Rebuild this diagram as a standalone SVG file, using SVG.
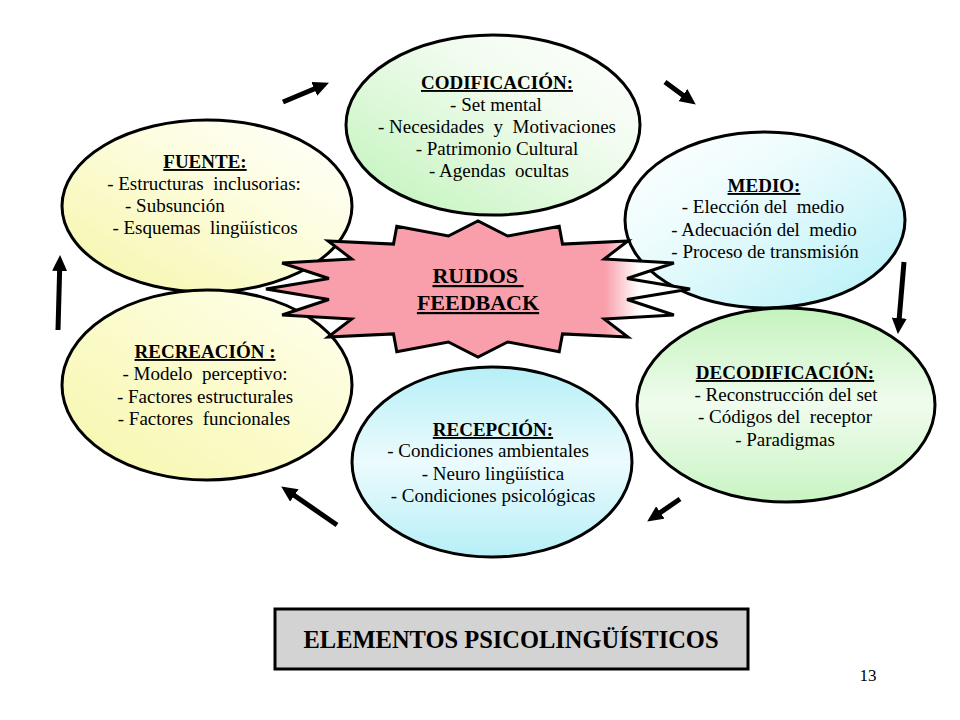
<svg xmlns="http://www.w3.org/2000/svg" width="960" height="720" viewBox="0 0 960 720">
<defs>
<style>
.t{font-family:"Liberation Serif","Times New Roman",serif;font-size:19px;fill:#000;white-space:pre;text-anchor:middle}
.h{font-weight:bold;text-decoration:underline}
.e{stroke:#000;stroke-width:3}
.arr{stroke:#000;stroke-width:5;fill:none;marker-end:url(#ah)}
</style>
<marker id="ah" markerUnits="userSpaceOnUse" markerWidth="16" markerHeight="15" refX="3" refY="7.5" orient="auto">
<path d="M0,0 L16,7.5 L0,15 z" fill="#000"/>
</marker>
<linearGradient id="gGreen" x1="1" y1="0" x2="0" y2="1">
<stop offset="0" stop-color="#ffffff"/><stop offset="0.35" stop-color="#f2fcf0"/><stop offset="1" stop-color="#bff3b8"/>
</linearGradient>
<linearGradient id="gYellow" x1="1" y1="0" x2="0" y2="1">
<stop offset="0" stop-color="#ffffff"/><stop offset="0.4" stop-color="#fdfde0"/><stop offset="1" stop-color="#f5f5a8"/>
</linearGradient>
<linearGradient id="gYellow2" x1="1" y1="0" x2="0" y2="1">
<stop offset="0" stop-color="#fffff0"/><stop offset="0.5" stop-color="#fbfbcc"/><stop offset="1" stop-color="#f6f6ab"/>
</linearGradient>
<linearGradient id="gCyan" x1="0" y1="0" x2="1" y2="1">
<stop offset="0" stop-color="#ffffff"/><stop offset="0.35" stop-color="#eefcfd"/><stop offset="1" stop-color="#b4f0f7"/>
</linearGradient>
<linearGradient id="gGreenV" x1="0" y1="0" x2="0" y2="1">
<stop offset="0" stop-color="#c4f3bd"/><stop offset="0.5" stop-color="#f0fcee"/><stop offset="1" stop-color="#c8f4c2"/>
</linearGradient>
<linearGradient id="gCyanV" x1="0" y1="0" x2="0" y2="1">
<stop offset="0" stop-color="#b6eff7"/><stop offset="0.5" stop-color="#ecfbfd"/><stop offset="1" stop-color="#b6eff7"/>
</linearGradient>
<linearGradient id="gStar" x1="0" y1="0" x2="1" y2="0">
<stop offset="0" stop-color="#f99fab"/><stop offset="0.8" stop-color="#f99fab"/><stop offset="0.88" stop-color="#ffffff"/><stop offset="1" stop-color="#ffffff"/>
</linearGradient>
</defs>
<rect width="960" height="720" fill="#fff"/>

<g id="codificacion">
<ellipse class="e" cx="493" cy="125" rx="147" ry="90" fill="url(#gGreen)"/>
<text class="t h" x="497" y="89">CODIFICACIÓN:</text>
<text class="t" x="496" y="111">- Set mental</text>
<text class="t" x="497" y="133">- Necesidades  y  Motivaciones</text>
<text class="t" x="497" y="155">- Patrimonio Cultural</text>
<text class="t" x="499" y="177">- Agendas  ocultas</text>
</g>

<g id="fuente">
<ellipse class="e" cx="207" cy="206" rx="145" ry="86" fill="url(#gYellow)"/>
<text class="t h" x="205" y="168">FUENTE:</text>
<text class="t" x="204" y="190">- Estructuras  inclusorias:</text>
<text class="t" x="125" y="212" style="text-anchor:start">- Subsunción</text>
<text class="t" x="205" y="234">- Esquemas  lingüísticos</text>
</g>

<g id="recreacion">
<ellipse class="e" cx="207" cy="385" rx="145" ry="95" fill="url(#gYellow2)"/>
<text class="t h" x="205" y="358">RECREACIÓN :</text>
<text class="t" x="205" y="380">- Modelo  perceptivo:</text>
<text class="t" x="205" y="403">- Factores estructurales</text>
<text class="t" x="204" y="425">- Factores  funcionales</text>
</g>

<g id="recepcion">
<ellipse class="e" cx="492" cy="462" rx="140" ry="95" fill="url(#gCyanV)"/>
<text class="t h" x="493" y="436">RECEPCIÓN:</text>
<text class="t" x="488" y="457">- Condiciones ambientales</text>
<text class="t" x="493" y="480">- Neuro lingüística</text>
<text class="t" x="493" y="502">- Condiciones psicológicas</text>
</g>

<g id="medio">
<ellipse class="e" cx="765" cy="220" rx="140" ry="88" fill="url(#gCyan)"/>
<text class="t h" x="764" y="192">MEDIO:</text>
<text class="t" x="763" y="213">- Elección del  medio</text>
<text class="t" x="764" y="236">- Adecuación del  medio</text>
<text class="t" x="765" y="258">- Proceso de transmisión</text>
</g>

<g id="decodificacion">
<ellipse class="e" cx="786" cy="405" rx="149" ry="97" fill="url(#gGreenV)"/>
<text class="t h" x="785" y="379">DECODIFICACIÓN:</text>
<text class="t" x="786" y="401">- Reconstrucción del set</text>
<text class="t" x="785" y="423">- Códigos del  receptor</text>
<text class="t" x="785" y="446">- Paradigmas</text>
</g>

<g id="ruidos">
<polygon stroke="#000" stroke-width="3" stroke-linejoin="miter" fill="url(#gStar)" points="690,289 627.1,299.5 673.9,315 604.3,319 627.9,337.1 562.5,333.9 559.2,351.8 507.6,342 478,357 448.4,342 396.8,351.8 393.5,333.9 328.1,337.1 351.7,319 282.1,315 328.9,299.5 266,289 328.9,278.5 282.1,263 351.7,259 328.1,240.9 393.5,244.1 396.8,226.2 448.4,236 478,221 507.6,236 559.2,226.2 562.5,244.1 627.9,240.9 604.3,259 673.9,263 627.1,278.5"/>
<text class="t h" x="478" y="283" style="font-size:22px">RUIDOS&#160;</text>
<text class="t h" x="478" y="310" style="font-size:22px">FEEDBACK</text>
</g>

<g id="connectors">
<line class="arr" x1="283" y1="102" x2="317" y2="87.7"/>
<line class="arr" x1="665" y1="82" x2="685.3" y2="96.9"/>
<line class="arr" x1="904" y1="262" x2="899" y2="321"/>
<line class="arr" x1="680" y1="499" x2="657.9" y2="514.2"/>
<line class="arr" x1="337" y1="525" x2="291.9" y2="493.8"/>
<line class="arr" x1="58" y1="330" x2="59.7" y2="268"/>
</g>

<g id="titulo">
<rect x="275" y="609" width="473" height="60" fill="#d3d3d3" stroke="#000" stroke-width="3"/>
<text class="t" x="511" y="648" style="font-size:25px;font-weight:bold" textLength="415" lengthAdjust="spacingAndGlyphs">ELEMENTOS PSICOLINGÜÍSTICOS</text>
</g>

<text class="t" x="868" y="681" style="font-size:17px">13</text>
</svg>
